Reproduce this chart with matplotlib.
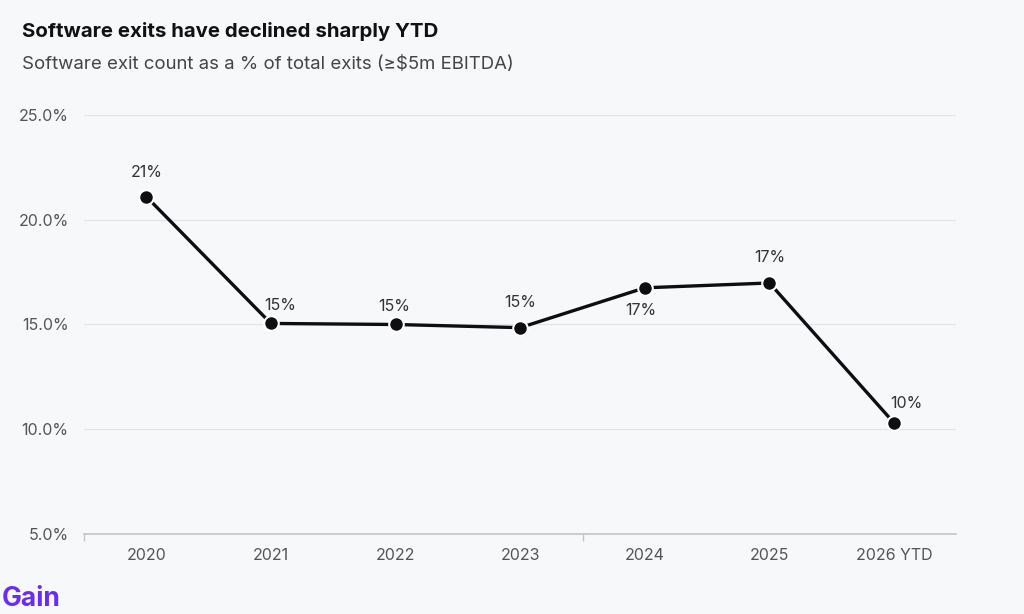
import matplotlib.pyplot as plt
import matplotlib.ticker as mticker

plt.rcParams['font.family'] = ['Inter', 'DejaVu Sans']

# data
years = ['2020', '2021', '2022', '2023', '2024', '2025', '2026 YTD']
share = [21.1, 15.05, 15.0, 14.85, 16.75, 16.98, 10.3]
labels = ['21%', '15%', '15%', '15%', '17%', '17%', '10%']

# label offsets (points) as placed in the original
lab_dx = [0, 7, -1, 0, -3, 0, 9]
lab_dy = [17, 13, 13, 18, -16, 18, 14]

BG = '#f7f8fa'
TXT = '#333333'

fig = plt.figure(figsize=(10.24, 6.14), dpi=100, facecolor=BG)
ax = fig.add_axes([0.082, 0.130, 0.852, 0.683], facecolor=BG)

x = list(range(len(years)))
ax.plot(x, share, color='#0d0d12', linewidth=2.4, zorder=3)
ax.scatter(x, share, s=110, color='#0d0d12', edgecolor='white',
           linewidth=1.5, zorder=4)

for xi, yi, lab, dx, dy in zip(x, share, labels, lab_dx, lab_dy):
    ax.annotate(lab, (xi, yi), xytext=(dx, dy), textcoords='offset points',
                ha='center', va='center', fontsize=11.5, color=TXT)

ax.set_xlim(-0.5, len(years) - 0.5)
ax.set_ylim(5, 25)
ax.set_yticks([5, 10, 15, 20, 25])
ax.yaxis.set_major_formatter(mticker.FuncFormatter(lambda v, p: f'{v:.1f}%'))
ax.set_xticks(x)
ax.set_xticklabels(years)
ax.xaxis.set_minor_locator(mticker.FixedLocator([-0.5, 3.5]))

ax.grid(axis='y', color='#e3e4e8', linewidth=0.8)
ax.set_axisbelow(True)
for s in ['top', 'right', 'left']:
    ax.spines[s].set_visible(False)
ax.spines['bottom'].set_color('#c4c4c8')
ax.spines['bottom'].set_linewidth(1.2)

ax.tick_params(axis='y', length=0, labelsize=11.5, labelcolor='#555555', pad=11)
ax.tick_params(axis='x', which='major', length=0, labelsize=11.5,
               labelcolor='#555555', pad=10)
ax.tick_params(axis='x', which='minor', length=5, color='#c4c4c8', width=1)

fig.text(0.021, 0.948, 'Software exits have declined sharply YTD',
         fontsize=14.7, fontweight='bold', color='#111111', va='center')
fig.text(0.021, 0.895, 'Software exit count as a % of total exits (≥$5m EBITDA)',
         fontsize=13.4, color='#444444', va='center')
fig.text(0.002, 0.024, 'Gain', fontsize=19, fontweight='bold',
         color='#6a2cf5', va='center')

fig.savefig('out.png', dpi=100, facecolor=BG)
